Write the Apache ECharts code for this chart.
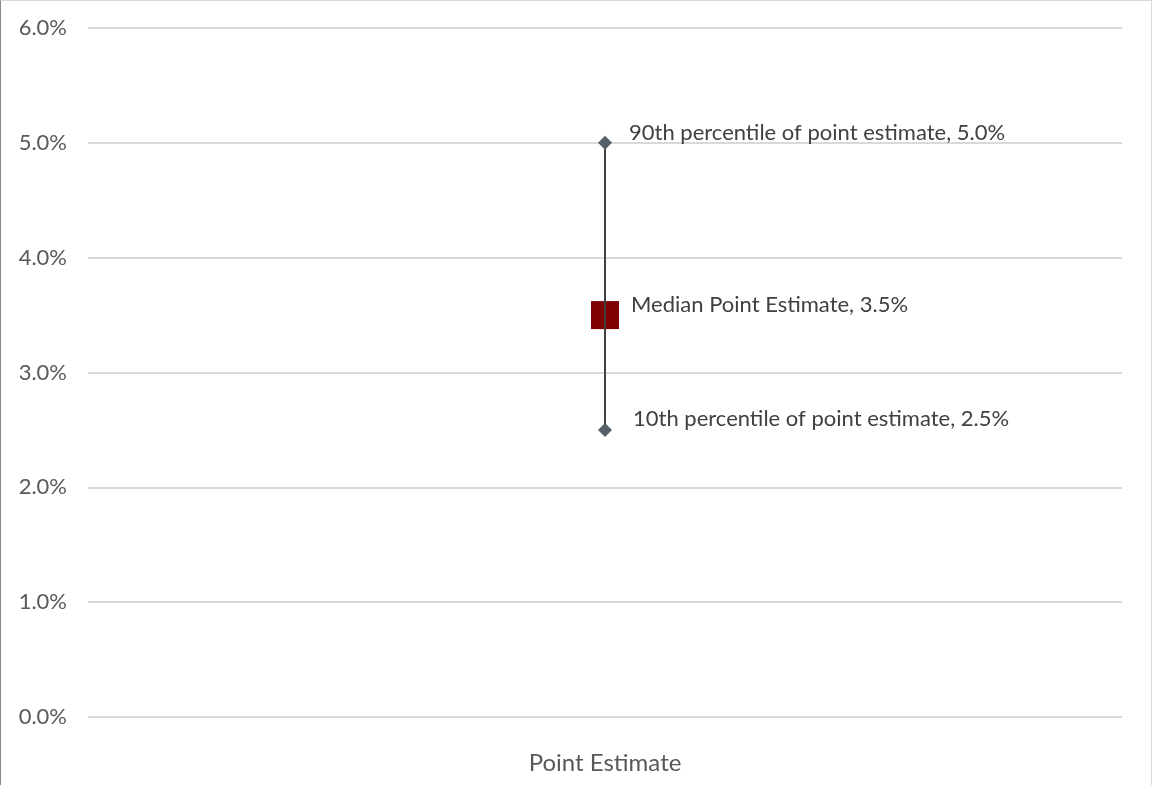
<!DOCTYPE html>
<html><head><meta charset="utf-8">
<script src="https://cdn.jsdelivr.net/npm/echarts@6/dist/echarts.min.js"></script>
<style>
html,body{margin:0;padding:0;background:#fff;}
#c{position:absolute;left:0;top:0;width:1152px;height:785px;border-left:1px solid #8a8a8a;border-top:1px solid #d9d9d9;border-right:1px solid #d9d9d9;box-sizing:border-box;}
</style>
</head><body>
<div id="c"></div>
<script>
const categories = ['Point Estimate'];
const highValues = [5.0];
const lowValues = [2.5];
const medianValues = [3.5];
const highLabel = '90th percentile of point estimate';
const lowLabel = '10th percentile of point estimate';
const medianLabel = 'Median Point Estimate';
const yTicks = [0, 1, 2, 3, 4, 5, 6];

const FONT = 'Lato';
const chart = echarts.init(document.getElementById('c'));
const fmt = v => v.toFixed(1) + '%';
chart.setOption({
  animation: false,
  grid: {left: 87, right: 29, top: 27, bottom: 68},
  xAxis: {
    type: 'category', data: categories,
    axisLine: {show: false}, axisTick: {show: false},
    axisLabel: {fontFamily: FONT, fontSize: 24, color: '#595959', margin: 34}
  },
  yAxis: {
    type: 'value', min: yTicks[0], max: yTicks[yTicks.length - 1], interval: 1,
    axisLine: {show: false}, axisTick: {show: false},
    axisLabel: {fontFamily: FONT, fontSize: 22, color: '#595959', margin: 21, formatter: v => fmt(v)},
    splitLine: {lineStyle: {color: '#d9d9d9', width: 2}}
  },
  series: [
    {
      type: 'scatter', name: 'median', z: 2,
      data: medianValues.map((v, i) => [categories[i], v]),
      symbol: 'rect', symbolSize: 28,
      itemStyle: {color: '#7f0000', opacity: 1},
      label: {show: true, position: 'right', distance: 12, offset: [0, -10],
        fontFamily: FONT, fontSize: 22, color: '#404040',
        formatter: p => medianLabel + ', ' + fmt(p.value[1])}
    },
    {
      type: 'custom', name: 'range', z: 3,
      data: categories.map((c, i) => [i, lowValues[i], highValues[i]]),
      renderItem: (params, api) => {
        const lo = api.coord([api.value(0), api.value(1)]);
        const hi = api.coord([api.value(0), api.value(2)]);
        return {type: 'line', shape: {x1: lo[0], y1: lo[1], x2: hi[0], y2: hi[1]},
          style: {stroke: '#404040', lineWidth: 2}};
      }
    },
    {
      type: 'scatter', name: 'high', z: 4,
      data: highValues.map((v, i) => [categories[i], v]),
      symbol: 'diamond', symbolSize: [14, 14],
      itemStyle: {color: '#56606b', opacity: 1},
      label: {show: true, position: 'right', distance: 17, offset: [0, -10],
        fontFamily: FONT, fontSize: 22, color: '#404040',
        formatter: p => highLabel + ', ' + fmt(p.value[1])}
    },
    {
      type: 'scatter', name: 'low', z: 4,
      data: lowValues.map((v, i) => [categories[i], v]),
      symbol: 'diamond', symbolSize: [14, 14],
      itemStyle: {color: '#56606b', opacity: 1},
      label: {show: true, position: 'right', distance: 21, offset: [0, -11],
        fontFamily: FONT, fontSize: 22, color: '#404040',
        formatter: p => lowLabel + ', ' + fmt(p.value[1])}
    }
  ]
});
</script>
</body></html>
